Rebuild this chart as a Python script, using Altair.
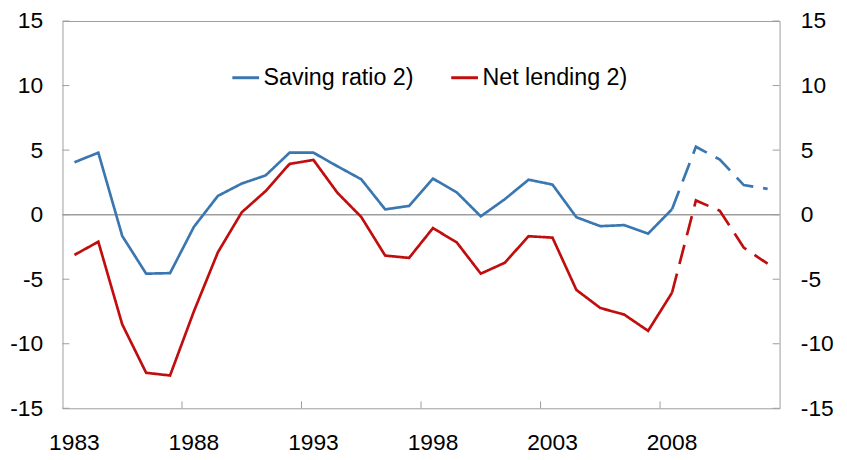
import altair as alt
import pandas as pd

years = list(range(1983, 2013))
saving_ratio = [4.06, 4.8, -1.65, -4.57, -4.53, -0.94, 1.45, 2.41, 3.04, 4.8,
                4.8, 3.75, 2.74, 0.41, 0.68, 2.79, 1.72, -0.13, 1.19, 2.71,
                2.33, -0.2, -0.89, -0.81, -1.47, 0.42, 5.26, 4.27, 2.29, 2.0]
net_lending = [-3.12, -2.1, -8.5, -12.25, -12.46, -7.48, -2.92, 0.18, 1.83, 3.93,
               4.24, 1.7, -0.18, -3.17, -3.35, -1.04, -2.16, -4.57, -3.73, -1.67,
               -1.78, -5.83, -7.23, -7.74, -9.0, -6.05, 1.1, 0.3, -2.55, -3.8]
series_names = ["Saving ratio 2)", "Net lending 2)"]
series_colors = ["#3A77B0", "#C00D0D"]
y_ticks = [-15, -10, -5, 0, 5, 10, 15]
x_label_years = [1983, 1988, 1993, 1998, 2003, 2008]
x_tick_bounds = [1987.5, 1992.5, 1997.5, 2002.5, 2007.5]
last_actual = 2008

rows = []
for name, vals in zip(series_names, [saving_ratio, net_lending]):
    for yr, v in zip(years, vals):
        if yr <= last_actual:
            rows.append(dict(year=yr, value=v, series=name, part="actual"))
        if yr >= last_actual:
            rows.append(dict(year=yr, value=v, series=name, part="projection"))
df = pd.DataFrame(rows)

W, H = 724, 391
FONT = "Liberation Sans"
FS = 23
GRAY = "#9d9d9d"
xs = alt.Scale(domain=[1982.5, 2012.5], nice=False, zero=False)
ys = alt.Scale(domain=[-15, 15], nice=False, zero=False)

lines = alt.Chart(df).mark_line(strokeWidth=2.7, strokeCap="butt").encode(
    x=alt.X("year:Q", scale=xs, axis=None),
    y=alt.Y("value:Q", scale=ys,
            axis=alt.Axis(values=y_ticks, title=None, ticks=False, domain=False,
                          grid=False, labelFont=FONT, labelFontSize=FS,
                          labelExpr="'' + datum.value",
                          labelColor="black", labelPadding=20)),
    color=alt.Color("series:N",
                    scale=alt.Scale(domain=series_names, range=series_colors),
                    legend=alt.Legend(orient="none", legendX=170, legendY=42,
                                      direction="horizontal", title=None,
                                      symbolType="stroke", symbolSize=729,
                                      symbolStrokeWidth=3, labelFont=FONT,
                                      labelFontSize=23.5, labelColor="black",
                                      columnPadding=31, labelOffset=3, padding=0)),
    strokeDash=alt.StrokeDash("part:N",
                              scale=alt.Scale(domain=["actual", "projection"],
                                              range=[[1, 0], [20, 10]]),
                              legend=None),
)

zero = alt.Chart(pd.DataFrame({"v": [0]})).mark_rule(color=GRAY, strokeWidth=1.5).encode(
    y=alt.Y("v:Q", scale=ys, axis=None)
)

left_ticks = alt.Chart(pd.DataFrame({"v": y_ticks})).mark_rule(color=GRAY).encode(
    y=alt.Y("v:Q", scale=ys, axis=None),
    x=alt.value(0), x2=alt.value(7)
)

right_ticks = alt.Chart(pd.DataFrame({"v": y_ticks})).mark_rule(color=GRAY).encode(
    y=alt.Y("v:Q", scale=ys,
            axis=alt.Axis(orient="right", values=y_ticks, title=None, ticks=False,
                          domain=False, grid=False, labelFont=FONT, labelFontSize=FS,
                          labelExpr="'' + datum.value",
                          labelColor="black", labelPadding=21)),
    x=alt.value(W - 7), x2=alt.value(W)
)

bottom_ticks = alt.Chart(pd.DataFrame({"b": x_tick_bounds})).mark_rule(color=GRAY).encode(
    x=alt.X("b:Q", scale=xs, axis=None),
    y=alt.value(H - 7), y2=alt.value(H)
)

year_labels = alt.Chart(pd.DataFrame({"yr": x_label_years})).mark_text(
    font=FONT, fontSize=FS, color="black", baseline="middle", align="center"
).encode(
    x=alt.X("yr:Q", scale=xs, axis=None),
    y=alt.value(H + 35),
    text=alt.Text("yr:Q", format="d"),
)

chart = alt.layer(zero, left_ticks, bottom_ticks, year_labels, lines, right_ticks).resolve_scale(
    y="independent"
).properties(
    width=W, height=H,
    autosize=alt.AutoSizeParams(type="none"),
    padding={"left": 55, "top": 11, "right": 60, "bottom": 45},
).configure_view(stroke=GRAY, strokeWidth=1)

chart.save("out.html", embed_options={"renderer": "svg", "actions": False})
